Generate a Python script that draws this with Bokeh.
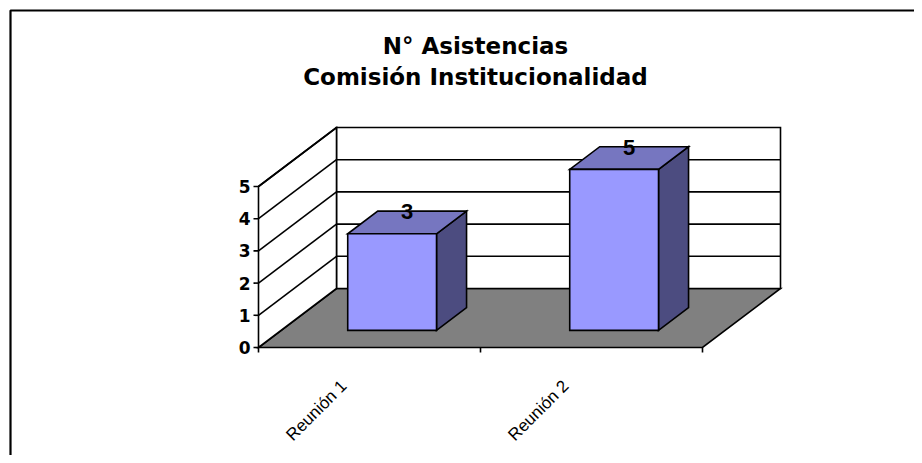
import math
from bokeh.plotting import figure
from bokeh.models import Range1d
from bokeh.embed import file_html
from bokeh.resources import INLINE
from bokeh.core.properties import value

# ---------------- data ----------------
title_lines = ["N° Asistencias", "Comisión Institucionalidad"]
categories = ["Reunión 1", "Reunión 2"]
asistencias = [3, 5]
y_ticks = [0, 1, 2, 3, 4, 5]
y_max = 5

# ---------------- layout (pixels) ----------------
W, H = 914, 455
OX, OY = 258.0, 347.0          # plot-pixel position of (category 0, value 0, front)
PX_CAT = 222.0                 # pixels per category slot
PX_VAL = 32.2                  # pixels per value unit
DEPTH_X_PX, DEPTH_Y_PX = 78.0, 59.0

DX = DEPTH_X_PX / PX_CAT
DY = DEPTH_Y_PX / PX_VAL


def px2x(px):
    return px / PX_CAT


def px2y(px):
    return px / PX_VAL


def P(c, v, z):
    return c + z * DX, v + z * DY


def quad(points):
    xs, ys = zip(*[P(*pt) for pt in points])
    return list(xs), list(ys)


p = figure(width=W, height=H, output_backend="svg", toolbar_location=None,
           x_range=Range1d(-OX / PX_CAT, (W - OX) / PX_CAT),
           y_range=Range1d(-(H - OY) / PX_VAL, OY / PX_VAL),
           x_axis_location=None, y_axis_location=None, min_border=0)
p.grid.visible = False
p.outline_line_color = None
p.background_fill_color = "white"
p.border_fill_color = "white"

LW = 1.6
n = len(categories)

# outer chart border (left and top edges visible)
bx = -(OX - 10) / PX_CAT
by = (OY - 10) / PX_VAL
p.line([bx, bx, 10], [-20, by, by], line_color="black", line_width=2.2)

# floor
fx, fy = quad([(0, 0, 0), (n, 0, 0), (n, 0, 1), (0, 0, 1)])
p.patch(fx, fy, fill_color="#808080", line_color="black", line_width=LW, line_join="miter")
# back wall
bwx, bwy = quad([(0, 0, 1), (n, 0, 1), (n, y_max, 1), (0, y_max, 1)])
p.patch(bwx, bwy, fill_color="white", line_color="black", line_width=LW, line_join="miter")
# left wall
lwx, lwy = quad([(0, 0, 0), (0, 0, 1), (0, y_max, 1), (0, y_max, 0)])
p.patch(lwx, lwy, fill_color="white", line_color="black", line_width=LW, line_join="miter")

# gridlines on back and left walls
gx, gy = [], []
for v in y_ticks[1:-1]:
    a, b = P(0, v, 1), P(n, v, 1)
    gx.append([a[0], b[0]]); gy.append([a[1], b[1]])
for v in y_ticks[1:]:
    a, b = P(0, v, 0), P(0, v, 1)
    gx.append([a[0], b[0]]); gy.append([a[1], b[1]])
p.multi_line(gx, gy, line_color="black", line_width=LW)

# y ticks and labels
tk = px2x(5)
p.multi_line([[-tk, 0] for v in y_ticks], [[v, v] for v in y_ticks],
             line_color="black", line_width=LW)
p.text(x=[-px2x(8)] * len(y_ticks), y=y_ticks, text=[str(v) for v in y_ticks],
       text_align="right", text_baseline="middle",
       text_font=value("DejaVu Sans"), text_font_style="bold",
       text_font_size="17px", text_color="black")

# x axis ticks
xt = list(range(n + 1))
p.multi_line([[c, c] for c in xt], [[0, -px2y(5)] for c in xt],
             line_color="black", line_width=LW)

# bars
BW = 0.2
ZF, ZB = 0.29, 0.675
TOP = "#7676C0"
SIDE = "#4C4C80"
FRONT = "#9999FF"
for i, val in enumerate(asistencias):
    c0, c1 = i + 0.5 - BW, i + 0.5 + BW
    sx, sy = quad([(c1, 0, ZF), (c1, 0, ZB), (c1, val, ZB), (c1, val, ZF)])
    p.patch(sx, sy, fill_color=SIDE, line_color="black", line_width=LW, line_join="miter")
    tx, ty = quad([(c0, val, ZF), (c1, val, ZF), (c1, val, ZB), (c0, val, ZB)])
    p.patch(tx, ty, fill_color=TOP, line_color="black", line_width=LW, line_join="miter")
    fx2, fy2 = quad([(c0, 0, ZF), (c1, 0, ZF), (c1, val, ZF), (c0, val, ZF)])
    p.patch(fx2, fy2, fill_color=FRONT, line_color="black", line_width=LW, line_join="miter")

# data labels above the bars
lx, ly = [], []
for i, val in enumerate(asistencias):
    x, y = P(i + 0.5, val, (ZF + ZB) / 2)
    lx.append(x); ly.append(y + px2y(11))
p.text(x=lx, y=ly, text=[str(v) for v in asistencias],
       text_align="center", text_baseline="middle",
       text_font=value("Liberation Sans"), text_font_style="bold",
       text_font_size="22px", text_color="black")

# category labels (rotated)
cx = [i + 0.5 - px2x(53) for i in range(n)]
cy = [-px2y(63)] * n
p.text(x=cx, y=cy, text=categories, angle=math.pi / 4,
       text_align="center", text_baseline="middle",
       text_font=value("Liberation Sans"), text_font_size="17px", text_color="black")

# title
tx0 = px2x(475 - OX)
p.text(x=[tx0, tx0], y=[px2y(OY - 45), px2y(OY - 76)], text=title_lines,
       text_align="center", text_baseline="middle",
       text_font=value("DejaVu Sans"), text_font_style="bold",
       text_font_size="23px", text_color="black")

open("out.html", "w").write(file_html(p, INLINE))
